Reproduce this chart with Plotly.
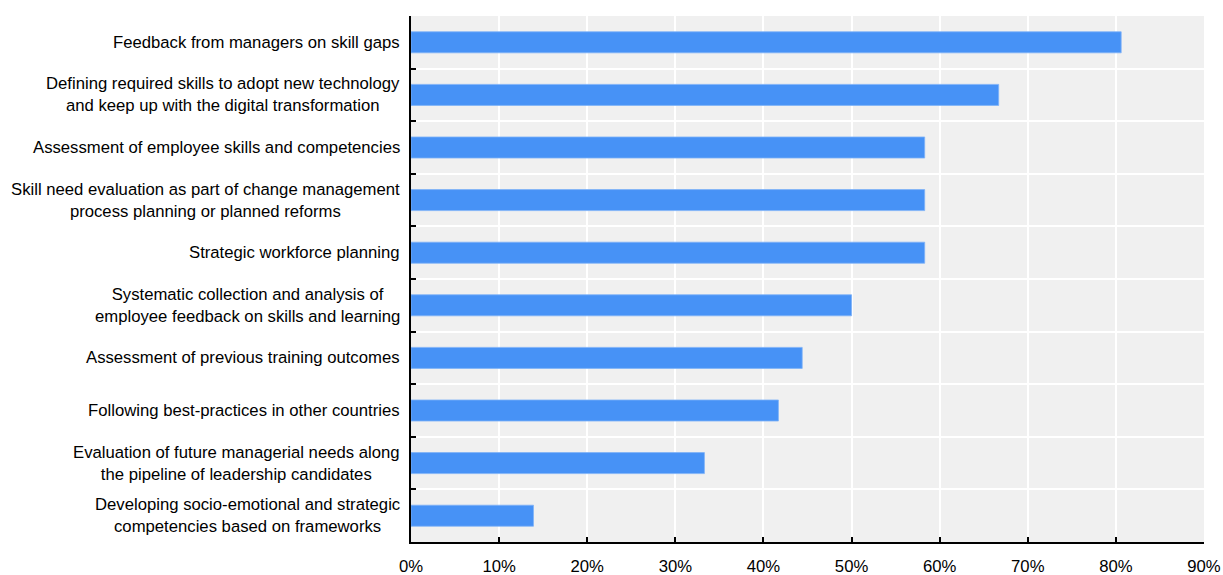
import plotly.graph_objects as go

categories = [
    "Feedback from managers on skill gaps",
    "Defining required skills to adopt new technology<br>and keep up with the digital transformation",
    "Assessment of employee skills and competencies",
    "Skill need evaluation as part of change management<br>process planning or planned reforms",
    "Strategic workforce planning",
    "Systematic collection and analysis of<br>employee feedback on skills and learning",
    "Assessment of previous training outcomes",
    "Following best-practices in other countries",
    "Evaluation of future managerial needs along<br>the pipeline of leadership candidates",
    "Developing socio-emotional and strategic<br>competencies based on frameworks",
]
values = [80.6, 66.7, 58.3, 58.3, 58.3, 50.0, 44.4, 41.7, 33.3, 13.9]
x_ticks = [0, 10, 20, 30, 40, 50, 60, 70, 80, 90]
x_tick_labels = [f"{t}%" for t in x_ticks]

FONT = "Liberation Sans, Arial, sans-serif"
FS = 16.7

fig = go.Figure()
fig.add_trace(go.Bar(
    x=values, y=categories, orientation="h", width=0.4,
    marker=dict(color="#4792F6", line=dict(color="#7FB2F8", width=0.8)),
    hoverinfo="x+y",
))

annotations = []
for c in categories:
    annotations.append(dict(
        x=0, xref="paper", y=c, yref="y", text=c, showarrow=False,
        xanchor="right", yanchor="middle", align="center", xshift=-9,
        font=dict(family=FONT, size=FS, color="#000000"),
    ))

fig.update_layout(
    width=1223, height=575,
    margin=dict(l=411, r=19, t=16, b=33, autoexpand=False),
    paper_bgcolor="white", plot_bgcolor="#F0F0F0",
    showlegend=False,
    font=dict(family=FONT, size=FS, color="#000000"),
    annotations=annotations,
    bargap=0.6,
)
fig.update_xaxes(
    range=[0, 90], tickvals=x_ticks, ticktext=x_tick_labels,
    showgrid=True, gridcolor="white", gridwidth=2,
    showline=True, linecolor="black", linewidth=1.5,
    ticks="inside", ticklen=5, tickcolor="black", tickwidth=1.5,
    zeroline=False, fixedrange=True, automargin=False,
    ticklabelstandoff=8,
    tickfont=dict(family=FONT, size=FS, color="#000000"),
)
fig.update_yaxes(
    autorange="reversed", type="category",
    showticklabels=False, tickson="boundaries",
    showgrid=True, gridcolor="white", gridwidth=2,
    showline=True, linecolor="black", linewidth=1.5,
    ticks="inside", ticklen=5, tickcolor="black", tickwidth=1.5,
    zeroline=False, fixedrange=True, automargin=False,
)

# remove the default 8px page margin so the figure fills the window exactly
fig.write_html(
    "out.html",
    config={"displayModeBar": False},
    post_script="document.body.style.margin='0';document.body.style.overflow='hidden';",
)
